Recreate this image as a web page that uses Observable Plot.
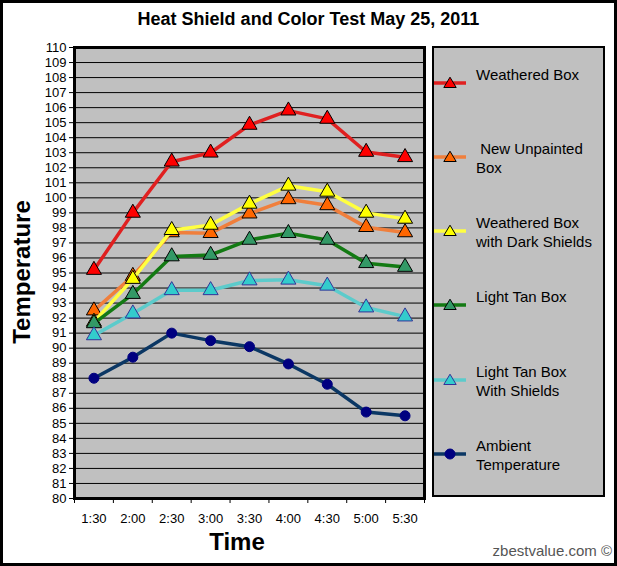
<!DOCTYPE html>
<html>
<head>
<meta charset="utf-8">
<script src="https://cdn.jsdelivr.net/npm/d3@7"></script>
<script src="https://cdn.jsdelivr.net/npm/@observablehq/plot@0.6"></script>
<style>
  html, body { margin: 0; padding: 0; background: #fff; }
  #chart { position: relative; width: 617px; height: 566px; background: #fff; font-family: "Liberation Sans", Arial, sans-serif; outline: 3px solid #000; outline-offset: -3px; overflow: hidden; }
  #chart svg { position: absolute; left: 0; top: 0; }
  .title { position: absolute; left: 0; width: 617px; top: 9px; text-align: center; font-size: 18px; font-weight: bold; }
  .xtitle { position: absolute; left: 137px; width: 200px; top: 528px; text-align: center; font-size: 24px; font-weight: bold; }
  .ytitle { position: absolute; left: 22px; top: 272px; transform: translate(-50%, -50%) rotate(-90deg); font-size: 24px; font-weight: bold; white-space: nowrap; }
  .credit { position: absolute; right: 5px; top: 542px; font-size: 15px; color: #555; }
  .legend { position: absolute; left: 432px; top: 46px; width: 173px; height: 451px; box-sizing: border-box; background: #c0c0c0; border: 2px solid #000; }
  .entry { position: absolute; left: 0; }
  .entry svg { position: absolute; left: 7px; top: -8px; }
  .entry .lab { position: absolute; left: 42px; top: -10px; font-size: 15px; line-height: 19px; white-space: pre; color: #000; }
</style>
</head>
<body>
<div id="chart"></div>
<script>
// ---- data ----
const times = ["1:30", "2:00", "2:30", "3:00", "3:30", "4:00", "4:30", "5:00", "5:30"];
const seriesNames = ["Weathered Box", " New Unpainted\nBox", "Weathered Box\nwith Dark Shields", "Light Tan Box", "Light Tan Box\nWith Shields", "Ambient\nTemperature"];
const weatheredBox      = [95.2, 99.0, 102.4, 103.0, 104.85, 105.8, 105.25, 103.05, 102.7];
const newUnpaintedBox   = [92.5, 94.8, 97.7, 97.65, 98.95, 99.9, 99.5, 98.05, 97.7];
const weatheredShields  = [91.75, 94.6, 97.85, 98.2, 99.6, 100.8, 100.4, 99.0, 98.6];
const lightTanBox       = [91.65, 93.6, 96.1, 96.2, 97.2, 97.65, 97.2, 95.65, 95.4];
const lightTanShields   = [90.85, 92.3, 93.85, 93.85, 94.5, 94.55, 94.15, 92.7, 92.1];
const ambientTemp       = [88.0, 89.4, 91.0, 90.5, 90.1, 88.95, 87.6, 85.75, 85.5];
const yTicks = d3.range(80, 111);

// ---- styles ----
const lineColors    = ["#e02020", "#f07f3c", "#ffff40", "#137a13", "#5ccbcb", "#0b3764"];
const markerFills   = ["#ff0000", "#ff6600", "#ffff00", "#339966", "#33cccc", "#000080"];
const markerStrokes = ["#000000", "#000000", "#000000", "#000000", "#333399", "#000080"];
const markerSymbols = ["triangle", "triangle", "triangle", "triangle", "triangle", "circle"];

const values = [weatheredBox, newUnpaintedBox, weatheredShields, lightTanBox, lightTanShields, ambientTemp];
const rows = values.flatMap((vals, k) => vals.map((v, i) => ({k, series: seriesNames[k], i, time: times[i], value: v})));

const seriesMarks = values.flatMap((vals, k) => {
  const d = rows.filter(r => r.k === k);
  return [
    Plot.line(d, {x: "i", y: "value", stroke: lineColors[k], strokeWidth: 3.5, strokeLinejoin: "round"}),
    Plot.dot(d, {x: "i", y: "value", symbol: markerSymbols[k], r: markerSymbols[k] === "circle" ? 5 : 5.6, fill: markerFills[k], stroke: markerStrokes[k], strokeWidth: 1})
  ];
});

const plot = Plot.plot({
  width: 617,
  height: 566,
  marginLeft: 74,
  marginRight: 193,
  marginTop: 47,
  marginBottom: 68,
  style: {background: "transparent", fontFamily: "Liberation Sans, Arial, sans-serif", fontSize: "13px", color: "#000"},
  x: {type: "linear", domain: [-0.5, 8.5]},
  y: {domain: [80, 110]},
  marks: [
    Plot.frame({fill: "#c0c0c0", stroke: "none"}),
    Plot.ruleY(yTicks, {stroke: "#000", strokeWidth: 1}),
    Plot.axisY({ticks: yTicks, tickSize: 5, tickPadding: 3, label: null, fontSize: 13}),
    Plot.axisX({ticks: d3.range(0, 9), tickFormat: i => times[i], tickSize: 0, tickPadding: 15, label: null, fontSize: 13}),
    Plot.axisX({ticks: d3.range(-0.5, 9, 1), tickSize: 5, tickFormat: () => "", label: null}),
    ...seriesMarks,
    Plot.frame({stroke: "#000", strokeWidth: 3})
  ]
});

const chart = document.getElementById("chart");
chart.appendChild(plot);

function addDiv(cls, text) {
  const el = document.createElement("div");
  el.className = cls;
  el.textContent = text;
  chart.appendChild(el);
  return el;
}
addDiv("title", "Heat Shield and Color Test May 25, 2011");
addDiv("xtitle", "Time");
addDiv("ytitle", "Temperature");
addDiv("credit", "zbestvalue.com \u00a9");

// legend built from the series arrays
const legend = addDiv("legend", "");
const rowY = [27, 101, 175, 249, 324, 398];
seriesNames.forEach((name, k) => {
  const e = document.createElement("div");
  e.className = "entry";
  e.style.top = rowY[k] + "px";
  const sym = markerSymbols[k] === "circle"
    ? `<circle cx="16" cy="8" r="5" fill="${markerFills[k]}" stroke="${markerStrokes[k]}"/>`
    : `<path d="M16,2.2 L22.2,12.5 L9.8,12.5 Z" fill="${markerFills[k]}" stroke="${markerStrokes[k]}"/>`;
  e.innerHTML = `<svg width="34" height="16"><line x1="0" x2="32" y1="8" y2="8" stroke="${lineColors[k]}" stroke-width="3.5"/>${sym}</svg><div class="lab"></div>`;
  e.querySelector(".lab").textContent = name;
  legend.appendChild(e);
});
</script>
</body>
</html>
